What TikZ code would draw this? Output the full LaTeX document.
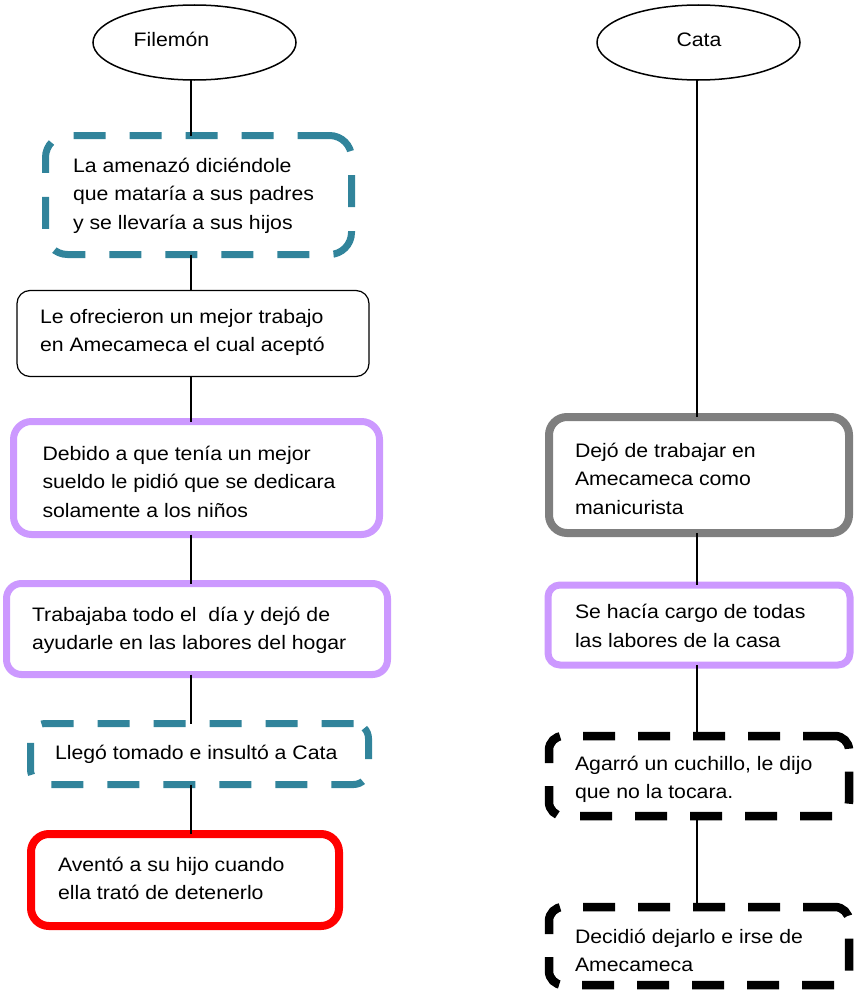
\documentclass[tikz,border=0pt]{standalone}
\usepackage{fontspec}
\setmainfont{Liberation Sans}[FakeStretch=1.09]
\usetikzlibrary{shapes.geometric}
\definecolor{tealline}{HTML}{31849B}
\definecolor{lilac}{HTML}{CC99FF}
\definecolor{slate}{HTML}{7F7F7F}
\definecolor{alarm}{HTML}{FF0000}

\begin{document}
\begin{tikzpicture}[x=1pt,y=-1pt,
  every node/.style={inner sep=0pt, outer sep=0pt},
  frame/.style={rectangle, minimum width=#1},
  oval/.style={ellipse, draw, line width=1.5pt, minimum width=203pt, minimum height=75pt},
  tealdash/.style={draw=tealline, line width=7pt, dash pattern=on 32pt off 24pt},
  blackdash/.style={draw=black, line width=8.5pt, dash pattern=on 32pt off 23pt},
  lilacbox/.style={draw=lilac, line width=7pt},
  greybox/.style={draw=slate, line width=8pt},
  redbox/.style={draw=alarm, line width=8pt},
  thinbox/.style={draw=black, line width=1.2pt},
  % multi-line text is anchored at the baseline of its last line
  txt/.style={align=left, anchor=base west, font=\fontsize{19.5pt}{28.5pt}\selectfont},
  link/.style={draw=black, line width=1.6pt}
]
\useasboundingbox (0,0) rectangle (854,990);
\clip (0,0) rectangle (854,990);

% spines of the two columns
\coordinate (spL) at (191,0);
\coordinate (spR) at (697,0);

% ---------- left column: Filemón ----------
\node[oval] (fil) at (194.5,42.5) {};
\node[txt, anchor=base] (filtxt) at (171.5,47) {Filemón};

\node[frame=306pt, minimum height=119pt, tealdash, rounded corners=22pt] (b1) at (198.5,195) {};
\node[txt] (t1) at (73,229) {La amenazó diciéndole\\que mataría a sus padres\\y se llevaría a sus hijos};

\node[frame=352pt, minimum height=86pt, thinbox, rounded corners=13pt] (b2) at (193,333.5) {};
\node[txt] (t2) at (40,351.5) {Le ofrecieron un mejor trabajo\\en Amecameca el cual aceptó};

\node[frame=366pt, minimum height=113pt, lilacbox, rounded corners=18pt] (b3) at (196.5,478) {};
\node[txt] (t3) at (42.5,517) {Debido a que tenía un mejor\\sueldo le pidió que se dedicara\\solamente a los niños};

\node[frame=381pt, minimum height=91pt, lilacbox, rounded corners=15pt] (b4) at (197,629) {};
\node[txt] (t4) at (32,649.5) {Trabajaba todo el\ \ día y dejó de\\ayudarle en las labores del hogar};

\node[frame=338pt, minimum height=61pt, tealdash, rounded corners=15pt] (b5) at (199.5,754) {};
\node[txt] (t5) at (55,759) {Llegó tomado e insultó a Cata};

\node[frame=308pt, minimum height=92pt, redbox, rounded corners=18pt] (b6) at (185,880) {};
\node[txt] (t6) at (58,899.5) {Aventó a su hijo cuando\\ella trató de detenerlo};

% ---------- right column: Cata ----------
\node[oval] (cat) at (698.5,42.5) {};
\node[txt, anchor=base] (cattxt) at (699,47) {Cata};

\node[frame=300pt, minimum height=116pt, greybox, rounded corners=18pt] (r1) at (699,475) {};
\node[txt] (u1) at (575,514) {Dejó de trabajar en\\Amecameca como\\manicurista};

\node[frame=302pt, minimum height=80pt, lilacbox, rounded corners=12pt] (r2) at (699,625) {};
\node[txt] (u2) at (575,647) {Se hacía cargo de todas\\las labores de la casa};

\node[frame=300pt, minimum height=80pt, blackdash, rounded corners=14pt] (r3) at (699,776) {};
\node[txt] (u3) at (575,798.5) {Agarró un cuchillo, le dijo\\que no la tocara.};

\node[frame=300pt, minimum height=78pt, blackdash, rounded corners=14pt] (r4) at (699,946) {};
\node[txt] (u4) at (575,971.5) {Decidió dejarlo e irse de\\Amecameca};

% ---------- connectors ----------
\draw[link] (spL |- fil.south) -- (spL |- b1.north);
\draw[link] (spL |- b1.south) -- (spL |- b2.north);
\draw[link] (spL |- b2.south) -- (spL |- b3.north);
\draw[link] (spL |- b3.south) -- (spL |- b4.north);
\draw[link] (spL |- b4.south) -- (spL |- b5.north);
\draw[link] (spL |- b5.south) -- (spL |- b6.north);

\draw[link] (spR |- cat.south) -- (spR |- r1.north);
\draw[link] (spR |- r1.south) -- (spR |- r2.north);
\draw[link] (spR |- r2.south) -- (spR |- r3.north);
\draw[link] (spR |- r3.south) -- (spR |- r4.north);
\end{tikzpicture}
\end{document}
